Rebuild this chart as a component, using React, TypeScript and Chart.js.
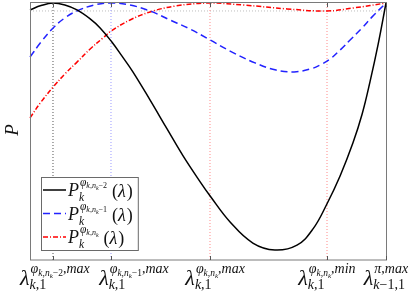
import React, { useEffect, useRef } from 'react';
import { Chart, registerables } from 'chart.js';
Chart.register(...registerables);

// lambda axis (normalised 0..100) and P values (normalised 0..100)
const blackX = [0, 3.1, 6.5, 9.8, 13.2, 16.9, 19.7, 23.0, 25.8, 28.9, 33.7, 38.5, 43.0, 47.8, 50.6, 56.2, 62.6, 68.8, 75.0, 79.5, 83.4, 87.1, 90.7, 93.3, 95.5, 97.8, 100];
const blackY = [97.3, 99.0, 100, 99.2, 97.3, 93.8, 90.3, 84.8, 79.4, 73.2, 62.3, 51.0, 40.5, 30.4, 24.9, 14.8, 6.6, 3.9, 5.8, 12.1, 21.8, 32.7, 45.5, 56.8, 69.3, 84.0, 100];

const blueX = [0, 3.1, 6.5, 9.8, 13.2, 18.0, 22.8, 28.1, 33.7, 39.3, 44.9, 50.6, 56.2, 63.2, 69.1, 74.2, 78.7, 81.5, 84.3, 87.1, 90.2, 93.3, 96.1, 100];
const blueY = [79.0, 84.8, 90.3, 94.2, 96.9, 99.2, 100, 99.2, 96.9, 93.4, 89.9, 85.6, 81.3, 76.7, 73.9, 73.2, 74.3, 75.9, 78.2, 81.7, 86.0, 90.3, 94.6, 100];

const redX = [0, 3.1, 6.5, 9.8, 13.2, 16.9, 20.5, 22.8, 28.1, 33.7, 40.7, 50.6, 60.1, 72.2, 83.4, 91.0, 100];
const redY = [55.3, 61.5, 67.3, 72.4, 77.0, 82.1, 86.4, 89.1, 93.4, 96.5, 98.8, 100, 99.2, 97.7, 96.9, 98.1, 100];

// reference (dotted) lines
const refLinesX = [6.46, 22.75, 50.56, 83.43];
const refLinesColor = ['#555555', '#9a9aff', '#ff8a8a', '#ff8a8a'];
const refLevelY = 96.9;

// x tick values and where their labels are centred
const xTicks = [6.46, 22.75, 50.56, 83.43, 100];
const xLabelCenters = [7.0, 29.2, 52.0, 83.4, 100];

const FONT = "'Liberation Serif', 'DejaVu Serif', serif";

type Run = { t: string; s: number; dy?: number; it?: boolean };

const it = (t: string, s: number, dy = 0): Run => ({ t, s, dy, it: true });
const up = (t: string, s: number, dy = 0): Run => ({ t, s, dy, it: false });

const tickSup: Run[][] = [
  [it('φ', 14), it('k', 9.5, 3), up(',', 9.5, 3), it('n', 9.5, 3), it('k', 7, 5), up('−2', 9.5, 3), up(',', 14), it('max', 14)],
  [it('φ', 14), it('k', 9.5, 3), up(',', 9.5, 3), it('n', 9.5, 3), it('k', 7, 5), up('−1', 9.5, 3), up(',', 14), it('max', 14)],
  [it('φ', 14), it('k', 9.5, 3), up(',', 9.5, 3), it('n', 9.5, 3), it('k', 7, 5), up(',', 14), it('max', 14)],
  [it('φ', 14), it('k', 9.5, 3), up(',', 9.5, 3), it('n', 9.5, 3), it('k', 7, 5), up(',', 14), it('min', 14)],
  [it('π', 14), up(',', 14), it('max', 14)],
];
const tickSub: Run[][] = [
  [it('k', 14), up(',1', 14)],
  [it('k', 14), up(',1', 14)],
  [it('k', 14), up(',1', 14)],
  [it('k', 14), up(',1', 14)],
  [it('k', 14), up('−1,1', 14)],
];

const legendSup: Run[][] = [
  [it('φ', 11.5), it('k', 8, 2), up(',', 8, 2), it('n', 8, 2), it('k', 6, 4), up('−2', 8, 2)],
  [it('φ', 11.5), it('k', 8, 2), up(',', 8, 2), it('n', 8, 2), it('k', 6, 4), up('−1', 8, 2)],
  [it('φ', 11.5), it('k', 8, 2), up(',', 8, 2), it('n', 8, 2), it('k', 6, 4)],
];
const legendStyles = [
  { color: '#000000', dash: [] as number[] },
  { color: '#2222ff', dash: [7, 4] },
  { color: '#ff0000', dash: [5, 2, 1, 2] },
];

function font(r: Run) {
  return `${r.it ? 'italic ' : ''}${r.s}px ${FONT}`;
}
function measureRuns(ctx: CanvasRenderingContext2D, runs: Run[]) {
  let w = 0;
  for (const r of runs) {
    ctx.font = font(r);
    w += ctx.measureText(r.t).width;
  }
  return w;
}
function drawRuns(ctx: CanvasRenderingContext2D, x: number, y: number, runs: Run[]) {
  let cx = x;
  for (const r of runs) {
    ctx.font = font(r);
    ctx.fillText(r.t, cx, y + (r.dy || 0));
    cx += ctx.measureText(r.t).width;
  }
  return cx - x;
}

const decor = {
  id: 'decor',
  afterDraw(chart: any) {
    const ctx: CanvasRenderingContext2D = chart.ctx;
    const a = chart.chartArea;
    const xs = chart.scales.x;
    ctx.save();
    // frame
    ctx.strokeStyle = '#7a7a7a';
    ctx.lineWidth = 1;
    ctx.strokeRect(Math.round(a.left) + 0.5, Math.round(a.top) - 0.5, Math.round(a.right - a.left), Math.round(a.bottom - a.top) + 0.5);
    // ticks (inward, top and bottom)
    ctx.strokeStyle = '#555';
    for (const v of xTicks) {
      const px = Math.round(xs.getPixelForValue(v)) + 0.5;
      ctx.beginPath();
      ctx.moveTo(px, a.top);
      ctx.lineTo(px, a.top + 4);
      ctx.moveTo(px, a.bottom);
      ctx.lineTo(px, a.bottom - 4);
      ctx.stroke();
    }
    // tick labels
    ctx.fillStyle = '#111';
    ctx.textBaseline = 'alphabetic';
    ctx.textAlign = 'left';
    const lam: Run = it('λ', 22);
    for (let i = 0; i < xTicks.length; i++) {
      const wl = measureRuns(ctx, [lam]);
      const ws = measureRuns(ctx, tickSup[i]);
      const wb = measureRuns(ctx, tickSub[i]);
      const total = wl + Math.max(ws + 1, wb);
      const cx = xs.getPixelForValue(xLabelCenters[i]);
      let x0 = cx - total / 2;
      if (x0 + total > 409) x0 = 409 - total;
      drawRuns(ctx, x0, a.bottom + 25, [lam]);
      drawRuns(ctx, x0 + wl + 1, a.bottom + 13, tickSup[i]);
      drawRuns(ctx, x0 + wl, a.bottom + 29, tickSub[i]);
    }
    // y label
    ctx.save();
    ctx.translate(18, 130);
    ctx.rotate(-Math.PI / 2);
    ctx.textAlign = 'center';
    ctx.font = `italic 19px ${FONT}`;
    ctx.fillText('P', 0, 0);
    ctx.restore();
    // legend
    const lx = 41, ly = 177, rowH = 23.5;
    ctx.font = `italic 18px ${FONT}`;
    const wP = ctx.measureText('P').width;
    let maxW = 0;
    for (const s of legendSup) maxW = Math.max(maxW, measureRuns(ctx, s));
    ctx.font = `18px ${FONT}`;
    const wPar = ctx.measureText('(λ)').width;
    const boxW = 27 + wP + maxW + 6 + wPar + 5;
    ctx.fillStyle = '#ffffff';
    ctx.fillRect(lx, ly, boxW, 73);
    ctx.strokeStyle = '#6a6a6a';
    ctx.lineWidth = 1;
    ctx.strokeRect(lx + 0.5, ly + 0.5, boxW, 73);
    for (let i = 0; i < 3; i++) {
      const yc = ly + 13 + i * rowH;
      ctx.save();
      ctx.strokeStyle = legendStyles[i].color;
      ctx.lineWidth = 1.5;
      ctx.setLineDash(legendStyles[i].dash);
      ctx.beginPath();
      ctx.moveTo(lx + 2, yc);
      ctx.lineTo(lx + 25, yc);
      ctx.stroke();
      ctx.restore();
      ctx.fillStyle = '#111';
      const px = lx + 27;
      ctx.font = `italic 18px ${FONT}`;
      ctx.fillText('P', px, yc + 6);
      const ws = drawRuns(ctx, px + wP + 1, yc - 4, legendSup[i]);
      drawRuns(ctx, px + wP, yc + 11, [it('k', 11.5)]);
      ctx.font = `18px ${FONT}`;
      ctx.fillText('(', px + wP + ws + 6, yc + 7);
      const wo = ctx.measureText('(').width;
      ctx.font = `italic 18px ${FONT}`;
      ctx.fillText('λ', px + wP + ws + 6 + wo, yc + 7);
      const wlam = ctx.measureText('λ').width;
      ctx.font = `18px ${FONT}`;
      ctx.fillText(')', px + wP + ws + 6 + wo + wlam + 1, yc + 7);
    }
    ctx.restore();
  },
};

const zip = (xs: number[], ys: number[]) => xs.map((x, i) => ({ x, y: ys[i] }));

export default function App() {
  const ref = useRef<HTMLCanvasElement>(null);
  useEffect(() => {
    if (!ref.current) return;
    const refSets = refLinesX.map((x, i) => ({
      data: [{ x, y: 0 }, { x, y: 100 }],
      borderColor: refLinesColor[i],
      borderWidth: 1,
      borderDash: [1, 2],
      pointRadius: 0,
      tension: 0,
      order: 3,
    }));
    const curve = (xs: number[], ys: number[], color: string, dash: number[]) => ({
      data: zip(xs, ys),
      borderColor: color,
      borderWidth: 1.5,
      borderDash: dash,
      pointRadius: 0,
      tension: 0.4,
      order: 1,
      clip: 3,
    });
    const chart = new Chart(ref.current, {
      type: 'line',
      data: {
        datasets: [
          curve(blackX, blackY, '#000000', []),
          curve(blueX, blueY, '#2222ff', [7, 4]),
          curve(redX, redY, '#ff0000', [5, 2, 1, 2]),
          ...refSets,
          {
            data: [{ x: 0, y: refLevelY }, { x: 100, y: refLevelY }],
            borderColor: '#bdbdbd',
            borderWidth: 1,
            borderDash: [1, 2],
            pointRadius: 0,
            order: 3,
          },
        ] as any,
      },
      options: {
        animation: false,
        responsive: false,
        layout: { padding: { left: 30, right: 23, top: 3, bottom: 33 } },
        scales: {
          x: { type: 'linear', min: 0, max: 100, display: false },
          y: { type: 'linear', min: 0, max: 100, display: false },
        },
        plugins: { legend: { display: false }, tooltip: { enabled: false } },
      },
      plugins: [decor],
    });
    return () => chart.destroy();
  }, []);
  return (
    <div style={{ position: 'fixed', left: 0, top: 0, width: 409, height: 293, background: '#fff' }}>
      <canvas ref={ref} width={409} height={293} />
    </div>
  );
}
